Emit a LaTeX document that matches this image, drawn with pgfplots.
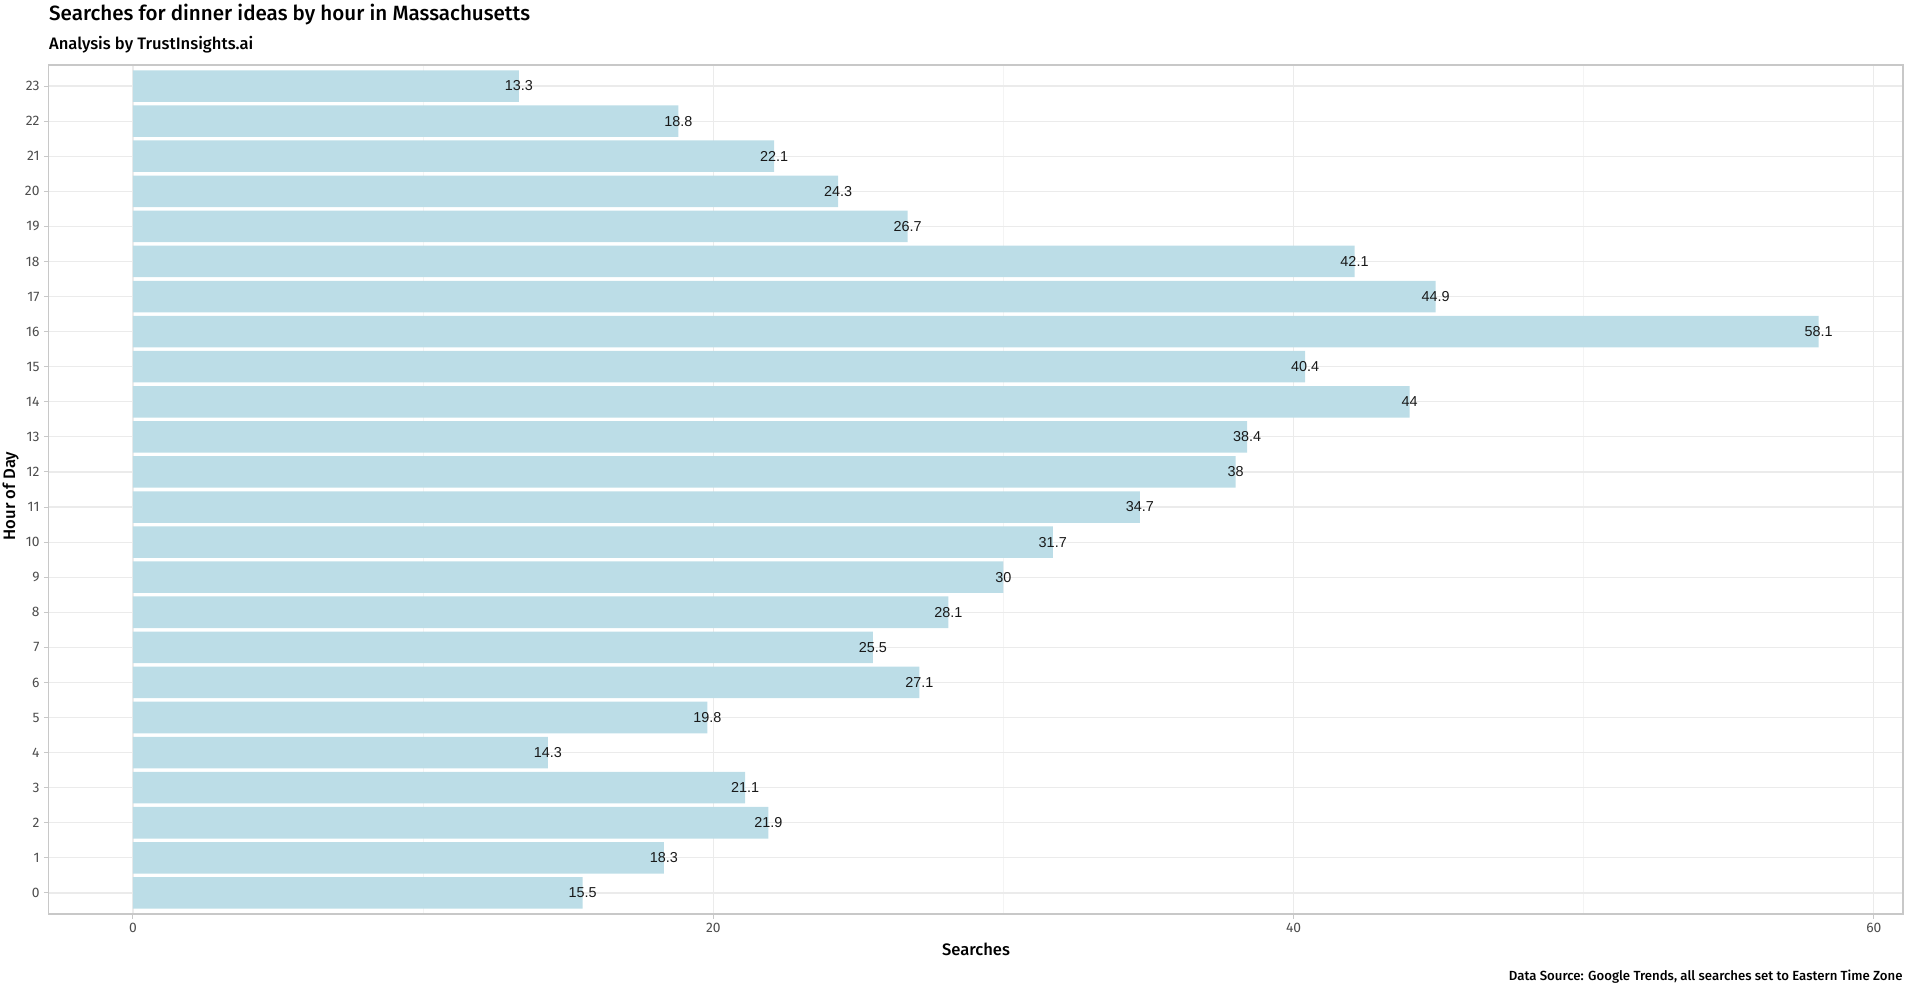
\documentclass[border=0pt]{standalone}
\usepackage{fontspec}
\usepackage{pgfplots}
\pgfplotsset{compat=1.18}
\setmainfont{Fira Sans}
\newfontfamily\medfont{Fira Sans Medium}
\newfontfamily\labelfont{Liberation Sans}
\definecolor{barblue}{RGB}{188,221,231}
\definecolor{grey30}{RGB}{77,77,77}
\definecolor{gridmaj}{RGB}{235,235,235}
\definecolor{gridmin}{RGB}{244,244,244}
\definecolor{border}{RGB}{200,200,200}
\begin{document}
\begin{tikzpicture}[x=1pt,y=1pt]
\useasboundingbox (0,0) rectangle (953,493);
\begin{axis}[
  at={(24.35pt,36pt)}, anchor=south west,
  scale only axis, width=927.15pt, height=424.5pt,
  xmin=-2.905, xmax=61.005, ymin=-0.6, ymax=23.6,
  xbar, bar width=0.9, bar shift=0pt,
  ytick={0,...,23}, xtick={0,20,40,60}, minor xtick={10,30,50},
  grid=both,
  major grid style={draw=gridmaj, line width=0.55pt},
  minor grid style={draw=gridmin, line width=0.3pt},
  axis line style={draw=border, line width=0.6pt},
  tick align=outside, tick pos=left,
  major tick length=2.4pt, minor tick length=0pt,
  major tick style={draw=border, line width=0.5pt},
  /pgf/number format/assume math mode=true,
  ticklabel style={font=\fontsize{6.9}{8}\selectfont, text=grey30},
  yticklabel style={inner sep=0pt, xshift=-2pt},
  xticklabel style={inner sep=0pt, yshift=-2pt},
  nodes near coords={\pgfmathprintnumber[assume math mode=true]{\pgfplotspointmeta}},
  point meta=x,
  every node near coord/.append style={anchor=center, font=\labelfont\fontsize{7.2}{8}\selectfont, text=black!90, inner sep=0pt},
]
\addplot[fill=barblue, draw=none] coordinates {
(15.5,0) (18.3,1) (21.9,2) (21.1,3) (14.3,4) (19.8,5) (27.1,6) (25.5,7)
(28.1,8) (30,9) (31.7,10) (34.7,11) (38,12) (38.4,13) (44,14) (40.4,15)
(58.1,16) (44.9,17) (42.1,18) (26.7,19) (24.3,20) (22.1,21) (18.8,22) (13.3,23)
};
\end{axis}
\node[anchor=base west, inner sep=0pt, font=\medfont\fontsize{10.3}{12}\selectfont] at (24.35,482.5) {Searches for dinner ideas by hour in Massachusetts};
\node[anchor=base west, inner sep=0pt, font=\medfont\fontsize{8.3}{10}\selectfont] at (24.35,468) {Analysis by TrustInsights.ai};
\node[anchor=base, inner sep=0pt, font=\medfont\fontsize{8.3}{10}\selectfont] at (488,15.2) {Searches};
\node[anchor=base, rotate=90, inner sep=0pt, font=\medfont\fontsize{8.3}{10}\selectfont] at (7.6,245) {Hour of Day};
\node[anchor=base east, inner sep=0pt, font=\medfont\fontsize{6.6}{8}\selectfont] at (951.5,3) {Data Source: Google Trends, all searches set to Eastern Time Zone};
\end{tikzpicture}
\end{document}
